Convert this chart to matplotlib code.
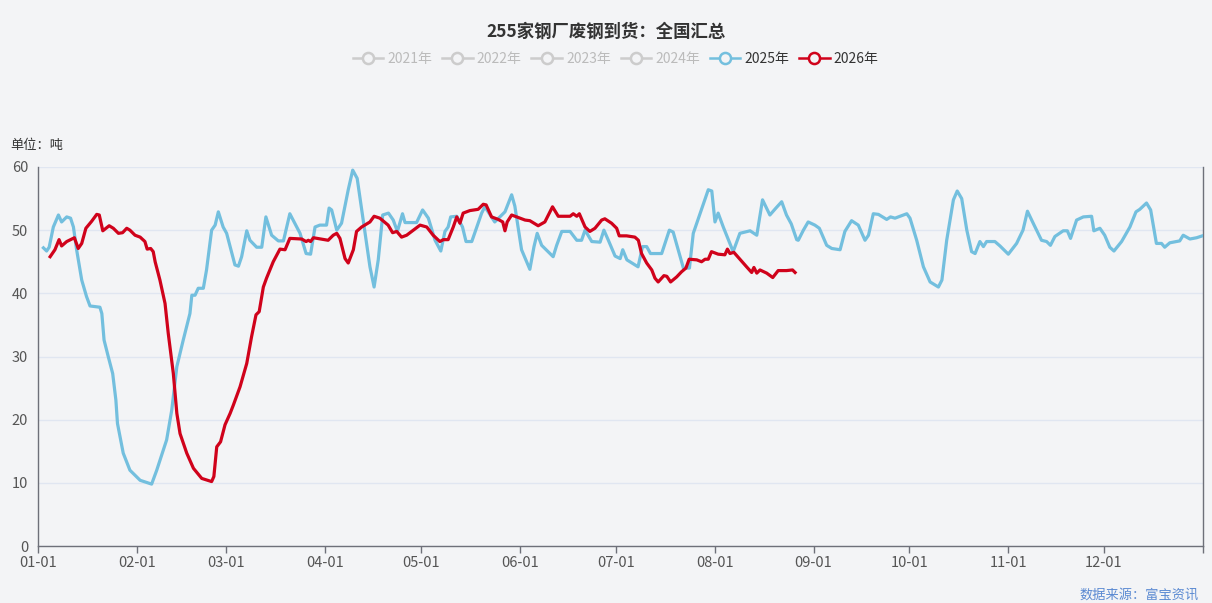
import matplotlib
matplotlib.use("Agg")
import matplotlib.pyplot as plt
from matplotlib.lines import Line2D

plt.rcParams["font.family"] = ["Noto Sans CJK SC", "DejaVu Sans"]

# day offsets since Jan 1 and arrivals (10k t)
day_2025 = [1.7, 2.7, 3.5, 4.8, 6.4, 7.4, 9.0, 10.2, 11.1, 12.1, 13.7, 15.2, 16.3, 19.4, 20.0,
            20.7, 22.0, 23.4, 24.4, 24.9, 26.7, 28.8, 32.0, 35.6, 37.2, 40.3, 41.9, 43.5, 45.5,
            47.6, 48.2, 49.2, 50.2, 51.8, 52.8, 54.4, 55.5, 56.5, 58.0, 59.1, 61.7, 62.8, 63.8,
            65.4, 66.4, 68.5, 70.1, 71.4, 73.2, 75.3, 76.9, 78.9, 82.1, 84.0, 85.4, 86.8, 88.3,
            90.4, 91.2, 92.0, 93.6, 95.1, 97.2, 98.6, 100.0, 101.9, 104.0, 105.3, 106.6, 108.0,
            109.8, 111.3, 112.6, 114.2, 115.0, 118.6, 120.5, 122.3, 124.4, 126.2, 127.5, 128.5,
            129.3, 131.2, 133.0, 134.1, 135.9, 139.0, 140.0, 143.1, 146.3, 148.4, 149.4, 151.5,
            154.1, 155.4, 156.4, 157.8, 161.4, 162.5, 164.1, 166.7, 168.8, 170.3, 171.4, 173.5,
            176.1, 177.3, 178.7, 180.8, 182.4, 183.2, 184.5, 188.0, 189.4, 190.7, 191.9, 195.4,
            197.8, 199.0, 202.2, 204.1, 205.3, 210.0, 211.1, 212.1, 213.1, 214.7, 217.8, 219.9,
            223.1, 225.2, 227.0, 229.3, 231.2, 233.0, 234.5, 236.0, 237.7, 238.2, 239.8, 241.3,
            243.4, 244.8, 247.1, 248.7, 251.3, 252.8, 254.9, 257.0, 259.1, 260.2, 261.7, 263.3,
            265.9, 267.1, 268.5, 272.2, 273.2, 275.3, 277.4, 279.5, 282.1, 283.2, 284.7, 286.8,
            288.0, 289.4, 291.0, 292.5, 293.6, 295.1, 296.2, 297.2, 299.8, 301.4, 304.0, 306.6,
            308.6, 310.0, 311.8, 314.4, 316.0, 317.2, 318.6, 321.2, 322.5, 323.5, 325.4, 327.5,
            330.1, 330.8, 332.7, 334.2, 335.8, 337.1, 339.5, 342.1, 344.0, 345.2, 347.3, 348.6,
            350.4, 352.0, 353.0, 354.6, 357.7, 358.8, 360.9, 363.0, 364.8]
val_2025 = [47.2, 46.7, 47.3, 50.5, 52.4, 51.3, 52.1, 51.9, 50.5, 46.9, 42.1, 39.5, 38.0, 37.8, 36.8,
            32.6, 30.0, 27.3, 23.1, 19.4, 14.7, 12.0, 10.4, 9.8, 12.0, 16.8, 21.5, 28.4, 32.6,
            36.8, 39.7, 39.7, 40.8, 40.8, 43.7, 50.0, 50.8, 52.9, 50.5, 49.5, 44.5, 44.3, 45.8,
            49.9, 48.4, 47.3, 47.3, 52.1, 49.2, 48.3, 48.3, 52.6, 49.5, 46.3, 46.2, 50.5, 50.8,
            50.8, 53.5, 53.2, 50.0, 51.1, 56.4, 59.5, 58.2, 51.6, 44.2, 41.0, 45.3, 52.4,
            52.7, 51.6, 49.8, 52.6, 51.2, 51.2, 53.2, 51.9, 48.4, 46.7, 49.8, 50.5,
            52.1, 52.2, 50.5, 48.2, 48.2, 52.7, 53.7, 51.3, 52.9, 55.6, 53.8, 46.9,
            43.8, 47.4, 49.5, 47.6, 45.8, 47.6, 49.8, 49.8, 48.4, 48.4, 50.0, 48.2,
            48.1, 50.0, 48.4, 45.9, 45.5, 46.9, 45.3, 44.2, 47.4, 47.4, 46.3, 46.3,
            50.0, 49.7, 44.0, 44.0, 49.5, 56.4, 56.2, 51.3, 52.7, 50.5, 46.6, 49.5,
            49.9, 49.2, 54.8, 52.4, 53.5, 54.5, 52.4, 51.0, 48.5, 48.4, 50.0, 51.3,
            50.8, 50.3, 47.6, 47.1, 46.9, 49.8, 51.5, 50.8, 48.4, 49.2, 52.6, 52.5,
            51.7, 52.1, 51.9, 52.6, 51.9, 48.4, 44.2, 41.8, 41.0, 42.1, 48.4, 54.8,
            56.2, 55.0, 50.0, 46.6, 46.3, 48.2, 47.4, 48.2, 48.2, 47.5, 46.2, 47.9,
            50.0, 53.0, 51.1, 48.4, 48.2, 47.6, 49.0, 49.9, 49.9, 48.7, 51.6, 52.1,
            52.2, 49.9, 50.3, 49.2, 47.3, 46.7, 48.2, 50.5, 52.9, 53.3, 54.3, 53.2,
            47.9, 47.9, 47.3, 48.0, 48.3, 49.2, 48.6, 48.8, 49.1]

day_2026 = [3.8, 5.3, 6.6, 7.4, 9.0, 11.4, 12.6, 13.7, 15.0, 16.8, 18.4, 19.2, 20.3, 22.3, 23.6,
            25.2, 26.5, 27.8, 28.8, 30.4, 32.0, 33.5, 34.2, 35.3, 36.1, 36.7, 38.2, 39.8, 40.8,
            42.4, 43.5, 44.5, 46.6, 48.7, 51.3, 54.4, 55.1, 56.0, 57.2, 58.6, 60.2, 61.2, 63.3,
            65.4, 66.9, 68.3, 69.3, 70.6, 71.6, 73.7, 75.8, 77.4, 78.9, 82.6, 84.0, 84.7, 85.4,
            86.3, 90.9, 92.5, 93.6, 94.6, 96.2, 97.2, 98.8, 99.8, 101.4, 104.0, 105.3, 107.1,
            109.7, 111.1, 112.4, 113.9, 115.5, 119.7, 121.8, 123.8, 125.9, 127.0, 128.5, 130.1,
            131.2, 132.2, 133.2, 135.3, 137.9, 139.5, 140.4, 142.1, 144.2, 145.6, 146.3, 147.0,
            148.4, 151.0, 152.6, 154.1, 156.7, 158.8, 161.2, 163.0, 166.7, 167.7, 168.8, 169.6,
            171.4, 172.9, 174.5, 176.6, 177.6, 179.7, 181.3, 182.1, 184.4, 187.0, 188.1, 189.1,
            190.7, 192.3, 193.3, 194.3, 196.1, 197.0, 198.2, 200.1, 201.6, 203.0, 204.0, 206.4,
            207.9, 209.0, 210.0, 211.0, 213.1, 215.2, 216.0, 216.8, 218.0, 219.9, 222.0, 223.6,
            224.3, 225.2, 226.2, 228.3, 230.2, 231.9, 234.5, 236.4, 237.2]
val_2026 = [45.8, 46.9, 48.5, 47.5, 48.2, 48.8, 47.1, 47.9, 50.3, 51.4, 52.5, 52.4, 49.9, 50.7, 50.3,
            49.5, 49.6, 50.3, 50.0, 49.2, 48.9, 48.2, 47.0, 47.1, 46.6, 45.0, 42.1, 38.4, 33.7,
            27.3, 21.0, 17.8, 14.7, 12.3, 10.7, 10.2, 11.0, 15.7, 16.5, 19.2, 21.0, 22.3, 25.2,
            28.9, 33.1, 36.6, 37.1, 41.0, 42.4, 45.0, 47.0, 46.9, 48.7, 48.6, 48.2, 48.4, 48.2,
            48.8, 48.4, 49.2, 49.5, 48.7, 45.5, 44.8, 46.9, 49.8, 50.5, 51.3, 52.2, 51.9,
            50.8, 49.6, 49.8, 48.9, 49.2, 50.8, 50.5, 49.2, 48.2, 48.5, 48.5, 50.5,
            52.1, 51.1, 52.7, 53.1, 53.3, 54.1, 54.0, 52.1, 51.7, 51.3, 49.9, 51.3,
            52.4, 51.9, 51.6, 51.5, 50.7, 51.3, 53.7, 52.2, 52.2, 52.6, 52.2, 52.6,
            50.5, 49.8, 50.3, 51.6, 51.8, 51.1, 50.3, 49.1, 49.1, 48.9, 48.4, 46.3,
            44.8, 43.7, 42.4, 41.8, 42.8, 42.7, 41.8, 42.6, 43.4, 44.0, 45.4, 45.3,
            45.0, 45.4, 45.4, 46.6, 46.2, 46.1, 47.0, 46.3, 46.5, 45.4, 44.2, 43.3,
            44.1, 43.2, 43.7, 43.2, 42.5, 43.6, 43.6, 43.7, 43.3]

month_starts = [0, 31, 59, 90, 120, 151, 181, 212, 243, 273, 304, 334]
month_labels = ["01-01", "02-01", "03-01", "04-01", "05-01", "06-01",
                "07-01", "08-01", "09-01", "10-01", "11-01", "12-01"]
legend_years = ["2021年", "2022年", "2023年", "2024年", "2025年", "2026年"]

BG = "#f3f4f6"
BLUE = "#73bfde"
RED = "#d0021b"
GREY = "#cccccc"
AXIS = "#6e7079"

fig = plt.figure(figsize=(12.12, 6.03), dpi=100, facecolor=BG)
ax = fig.add_axes([38 / 1212, 1 - 546 / 603, (1203 - 38) / 1212, (546 - 167) / 603])
ax.set_facecolor(BG)

ax.plot(day_2025, val_2025, color=BLUE, lw=2.3, solid_joinstyle="round", zorder=3)
ax.plot(day_2026, val_2026, color=RED, lw=2.3, solid_joinstyle="round", zorder=4)

ax.set_xlim(0, 365)
ax.set_ylim(0, 60)
ax.set_xticks(month_starts + [365])
ax.set_xticklabels(month_labels + [""])
ax.set_yticks(range(0, 61, 10))
ax.tick_params(axis="x", colors=AXIS, length=5, width=1, labelcolor="#555555",
               labelsize=10.5, pad=2)
ax.tick_params(axis="y", length=0, labelcolor="#555555", labelsize=10.5, pad=7)
ax.grid(axis="y", color="#e0e6f1", lw=1)
ax.set_axisbelow(True)
for side in ["left", "bottom", "right"]:
    ax.spines[side].set_color(AXIS)
    ax.spines[side].set_linewidth(1)
ax.spines["top"].set_visible(False)

fig.text(0.5, 1 - 32 / 603, "255家钢厂废钢到货：全国汇总", ha="center", va="center",
         fontsize=12.5, fontweight="bold", color="#333333")
fig.text(10 / 1212, 1 - 145 / 603, "单位：吨", ha="left", va="center",
         fontsize=9.5, color="#333333")
fig.text(1199 / 1212, 1 - 595 / 603, "数据来源：富宝资讯", ha="right", va="center",
         fontsize=9.5, color="#5b8ad2")

handles = []
for i, yr in enumerate(legend_years):
    c = GREY if i < 4 else (BLUE if i == 4 else RED)
    handles.append(Line2D([], [], color=c, lw=1.8, marker="o", markersize=8,
                          markerfacecolor=BG, markeredgewidth=1.8, label=yr))
leg = fig.legend(handles=handles, loc="center", bbox_to_anchor=(0.508, 1 - 59 / 603),
                 ncol=6, frameon=False, fontsize=10, handlelength=2.2,
                 handletextpad=0.3, columnspacing=0.7)
for i, t in enumerate(leg.get_texts()):
    t.set_color("#bbbbbb" if i < 4 else "#333333")

fig.savefig("out.png", dpi=100, facecolor=BG)
